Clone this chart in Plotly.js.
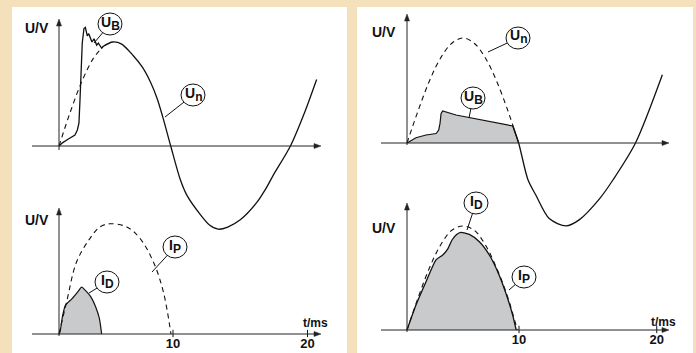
<!DOCTYPE html>
<html>
<head>
<meta charset="utf-8">
<script src="https://cdn.plot.ly/plotly-3.0.1.min.js"></script>
<style>
  html, body { margin: 0; padding: 0; background: #f4e1bb; }
  #chart { width: 696px; height: 353px; }
</style>
</head>
<body>
<div id="chart"></div>
<script>
// values: t in ms, U in arbitrary units (peak of U_n = 100)

// left panel, top
const leftUnDashT = [0, 1, 2, 3, 3.9];
const leftUnDashU = [0, 33, 62, 84, 96];
const leftUnT = [3.9, 4.7, 5.5, 6.5, 7.3, 8, 8.6, 9.1, 9.8, 10.6, 11.2, 12.4, 13.2, 13.97, 14.8, 15.9, 17.3, 18.2, 18.8, 20.3, 21.5, 22.6];
const leftUnU = [96, 100, 98, 87, 76, 62, 46, 28, 0, -31, -47, -66, -76, -80, -78, -71, -55, -40, -28, 0, 31, 64];
const leftUbT = [0, 0.3, 0.68, 1.4, 1.61, 1.75, 1.84, 1.93, 2.04, 2.19, 2.31, 2.48, 2.61, 2.89, 3.07, 3.31, 3.45, 3.75, 3.9];
const leftUbU = [0, 3, 5.8, 10.6, 15.4, 22, 44, 76, 99, 113, 114, 106, 108, 100, 103, 97, 99, 94, 96];

// left panel, bottom
const leftIpT = [0, 0.67, 1.55, 2.72, 3.6, 4.47, 5.94, 7.1, 8.27, 9.15, 9.82];
const leftIpU = [0, 31, 69.5, 92, 103, 106, 103, 92, 69.5, 40.7, 0];
const leftIdT = [0, 0.09, 0.32, 0.58, 1.11, 1.61, 1.99, 2.31, 2.78, 3.22, 3.54, 3.74];
const leftIdU = [0, 2, 18, 28, 33.6, 40, 45, 42, 36, 26, 15, 0];

// right panel, top
const rightUnDashT = [0, 1, 2, 3, 4, 5, 6, 7, 8, 9, 9.44];
const rightUnDashU = [0, 31, 59, 81, 95, 100, 95, 81, 59, 31, 17];
const rightUnT = [9.44, 9.97, 10.8, 11.5, 12.7, 14.2, 15.4, 17.2, 18.4, 20.4, 22.8];
const rightUnU = [17, 0, -35, -49.5, -72, -79, -73, -53, -35, 0, 65];
const rightUbT = [0, 0.8, 1.7, 2.6, 2.83, 2.95, 3.04, 3.18, 4.38, 5.86, 7.65, 9.44, 9.97];
const rightUbU = [0, 5, 7.6, 9, 12.4, 18.8, 28, 30.5, 26.7, 23.5, 20.3, 16.2, 0];

// right panel, bottom
const rightIpT = [0, 1, 2, 3, 4, 5, 6, 7, 8, 9, 9.85];
const rightIpU = [0, 31, 59, 81, 95, 99, 95, 81, 59, 31, 0];
const rightIdT = [0, 0.8, 1.7, 2.59, 3.19, 3.63, 4.02, 4.43, 4.82, 5.57, 6.46, 7.35, 8.24, 8.99, 9.44, 9.75];
const rightIdU = [0, 23.8, 46, 66.7, 71.4, 77, 85.7, 91, 93, 91, 84, 71.4, 52, 30, 14, 0];

// tick labels (the drawing puts "20" a little right of the true 20 ms)
const tickLabels = ["10", "20"];
const leftTickPos = [10, 21.8];
const rightTickPos = [10, 22.3];

const W = 696, H = 353;
const FONT = "Liberation Sans, Arial, sans-serif";
const INK = "#111";
const GREY = "#c9cacc";
const px = (x) => x / W;
const py = (y) => 1 - y / H;

// axis calibration: pixel of t=0 / U=0 and pixels per unit
const L = { x0: 59, sx: 11.4, yTop: 146, yBot: 334, sy: 1.04 };
const R = { x0: 407, sx: 11.2, yTop: 143, yBot: 330, sy: 1.05 };

function line(x, y, xa, ya, opts) {
  return Object.assign({
    x, y, xaxis: xa, yaxis: ya, type: "scatter", mode: "lines",
    line: { color: INK, width: 1.3 }, hoverinfo: "skip",
  }, opts || {});
}
const dashed = { line: { color: INK, width: 1.1, dash: "5px,4px", shape: "spline" } };
const smooth = { line: { color: INK, width: 1.3, shape: "spline", smoothing: 0.8 } };
const filled = { fill: "tozeroy", fillcolor: GREY };

const data = [
  line(leftUnDashT, leftUnDashU, "x", "y", dashed),
  line(leftUnT, leftUnU, "x", "y", smooth),
  line(leftUbT, leftUbU, "x", "y"),
  line(leftIdT, leftIdU, "x", "y2", Object.assign({}, filled, { line: { color: INK, width: 1.2, shape: "spline", smoothing: 0.6 } })),
  line(leftIpT, leftIpU, "x", "y2", dashed),
  line(rightUbT, rightUbU, "x2", "y3", Object.assign({}, filled, { line: { color: INK, width: 1.2 } })),
  line(rightUnDashT, rightUnDashU, "x2", "y3", dashed),
  line(rightUnT, rightUnU, "x2", "y3", smooth),
  line(rightIdT, rightIdU, "x2", "y4", Object.assign({}, filled, { line: { color: INK, width: 1.3, shape: "spline", smoothing: 0.6 } })),
  line(rightIpT, rightIpU, "x2", "y4", dashed),
];

function xAxis(c, pos, tickvals) {
  return {
    domain: [0, 1], range: [-c.x0 / c.sx, (W - c.x0) / c.sx],
    anchor: "free", position: py(pos),
    tickvals, ticktext: tickLabels, ticks: "",
    showline: false, showgrid: false, zeroline: false, fixedrange: true,
    tickfont: { family: FONT, size: 13, color: INK, weight: "bold" },
  };
}
function yAxis(zeroPx, sy, anchor) {
  return {
    domain: [0, 1], range: [(zeroPx - H) / sy, zeroPx / sy], anchor,
    visible: false, fixedrange: true,
  };
}

const shapes = [
  { type: "rect", xref: "paper", yref: "paper", x0: px(12), x1: px(347), y0: 0, y1: py(7), fillcolor: "#fff", line: { width: 0 }, layer: "below" },
  { type: "rect", xref: "paper", yref: "paper", x0: px(357), x1: px(693), y0: 0, y1: py(7), fillcolor: "#fff", line: { width: 0 }, layer: "below" },
];
leftTickPos.forEach((t) => shapes.push({ type: "line", xref: "x", yref: "y2", x0: t, x1: t, y0: -3, y1: 4, line: { color: INK, width: 1 } }));
rightTickPos.forEach((t) => shapes.push({ type: "line", xref: "x2", yref: "y4", x0: t, x1: t, y0: -3, y1: 4, line: { color: INK, width: 1 } }));

// axis lines with arrow heads: [tailX, tailY, tipX, tipY] in pixels
const pt = (x, y) => px(x) + "," + py(y);
[
  [32, 146, 321, 146], [59, 150, 59, 19],
  [32, 334, 321, 334], [59, 336, 59, 208],
  [381, 143, 669, 143], [407, 145, 407, 14],
  [381, 330, 669, 330], [407, 332, 407, 203],
].forEach(([tx, ty, x, y]) => {
  const horiz = ty === y;
  const hl = 7, hw = 2.5;
  const bx = horiz ? x - hl : x, by = horiz ? y : y + hl;
  shapes.push({ type: "line", xref: "paper", yref: "paper", x0: px(tx), y0: py(ty), x1: px(bx), y1: py(by), line: { color: "#222", width: 1 } });
  const head = horiz
    ? `M${pt(x, y)} L${pt(x - hl, y - hw)} L${pt(x - hl, y + hw)} Z`
    : `M${pt(x, y)} L${pt(x - hw, y + hl)} L${pt(x + hw, y + hl)} Z`;
  shapes.push({ type: "path", xref: "paper", yref: "paper", path: head, fillcolor: "#222", line: { color: "#222", width: 0.5 } });
});

const annotations = [];
const txt = (s, x, y, size, weight) => ({
  xref: "paper", yref: "paper", x: px(x), y: py(y), text: s, showarrow: false,
  xanchor: "center", yanchor: "middle",
  font: { family: FONT, size, color: INK, weight: weight || "bold" },
});
annotations.push(txt("U/V", 37, 28, 14), txt("U/V", 37, 220, 14), txt("U/V", 384, 32, 14), txt("U/V", 384, 228, 14));
annotations.push(txt("t/ms", 315, 323, 12), txt("t/ms", 663, 322, 12));

// circled curve names: [label, subscript, centre x, centre y, leader end x, leader end y]
[
  ["U", "B", 110, 24, 94, 43],
  ["U", "n", 193, 95, 165, 117],
  ["I", "P", 175, 247, 152, 272],
  ["I", "D", 107, 282, 89, 293],
  ["U", "n", 518, 38, 488, 52],
  ["U", "B", 473, 98, 469, 118],
  ["I", "D", 476, 203, 467, 230],
  ["I", "P", 524, 277, 509, 290],
].forEach(([s, sub, cx, cy, ex, ey]) => {
  shapes.push({ type: "line", xref: "paper", yref: "paper", x0: px(cx), y0: py(cy), x1: px(ex), y1: py(ey), line: { color: INK, width: 1 } });
  shapes.push({
    type: "circle", xref: "paper", yref: "paper", xsizemode: "pixel", ysizemode: "pixel",
    xanchor: px(cx), yanchor: py(cy), x0: -12, x1: 12, y0: -11, y1: 11,
    fillcolor: "#fff", line: { color: INK, width: 1 },
  });
  annotations.push(txt(`${s}<sub><span style="font-size:12px">${sub}</span></sub>`, cx, cy - 1, 14));
});

const layout = {
  width: W, height: H,
  margin: { l: 0, r: 0, t: 0, b: 0 },
  paper_bgcolor: "#f4e1bb",
  plot_bgcolor: "rgba(0,0,0,0)",
  showlegend: false,
  xaxis: xAxis(L, L.yBot, leftTickPos),
  xaxis2: xAxis(R, R.yBot, rightTickPos),
  yaxis: yAxis(L.yTop, L.sy, "x"),
  yaxis2: yAxis(L.yBot, L.sy, "x"),
  yaxis3: yAxis(R.yTop, R.sy, "x2"),
  yaxis4: yAxis(R.yBot, R.sy, "x2"),
  shapes,
  annotations,
};

Plotly.newPlot("chart", data, layout, { staticPlot: true, displayModeBar: false });
</script>
</body>
</html>
